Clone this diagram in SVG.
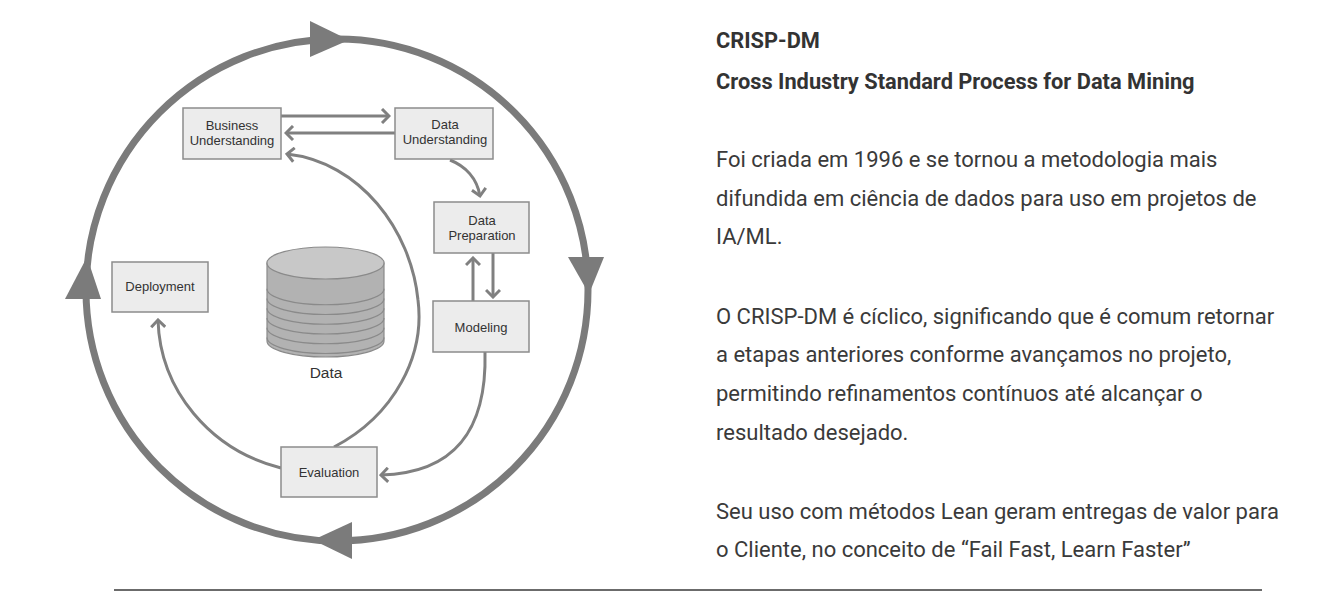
<svg xmlns="http://www.w3.org/2000/svg" width="1336" height="610" viewBox="0 0 1336 610">
<style>
.box{fill:#ececec;stroke:#8c8c8c;stroke-width:1.5}
.bt{font-family:"Liberation Sans",Arial,sans-serif;font-size:13px;fill:#333;text-anchor:middle}
.con{fill:none;stroke:#808080;stroke-width:3}
.cyc{fill:none;stroke:#7b7b7b;stroke-width:7}
.tri{fill:#7b7b7b}
.h{font-family:Roboto,"Liberation Sans",sans-serif;font-size:21.8px;font-weight:bold;fill:#333}
.p{font-family:Roboto,"Liberation Sans",sans-serif;font-size:22px;fill:#3a3a3a}
</style>
<defs>
<marker id="chev" viewBox="0 0 12 16" refX="10" refY="8" markerWidth="12" markerHeight="16" markerUnits="userSpaceOnUse" orient="auto">
<path d="M3,1 L10,8 L3,15" fill="none" stroke="#808080" stroke-width="3"/>
</marker>
</defs>
<rect width="1336" height="610" fill="#fff"/>

<g id="cycle">
<circle class="cyc" cx="337" cy="290" r="251"/>
<polygon class="tri" points="310,21 310,57 349,40"/>
<polygon class="tri" points="568,257 604,257 589,294"/>
<polygon class="tri" points="352,522 352,559 313,540"/>
<polygon class="tri" points="65,299 101,299 87,257"/>
</g>

<g id="connectors">
<path class="con" d="M281,116 L389,116" marker-end="url(#chev)"/>
<path class="con" d="M395,133 L286,133" marker-end="url(#chev)"/>
<path class="con" d="M334,447 C395,415 425,355 418,300 C411,230 360,162 287,154" marker-end="url(#chev)"/>
<path class="con" d="M450,160 C465,166 477,178 480,196" marker-end="url(#chev)"/>
<path class="con" d="M493,253 L493,297" marker-end="url(#chev)"/>
<path class="con" d="M473,301 L473,258" marker-end="url(#chev)"/>
<path class="con" d="M485,352 C487,430 455,473 381,475" marker-end="url(#chev)"/>
<path class="con" d="M281,468 C210,450 160,390 158,320" marker-end="url(#chev)"/>
</g>

<g id="business-understanding">
<rect class="box" x="183" y="108" width="98" height="51"/>
<text class="bt" x="232" y="130">Business</text>
<text class="bt" x="232" y="145">Understanding</text>
</g>
<g id="data-understanding">
<rect class="box" x="395" y="108" width="98" height="51"/>
<text class="bt" x="445" y="129">Data</text>
<text class="bt" x="445" y="144">Understanding</text>
</g>
<g id="data-preparation">
<rect class="box" x="434" y="202" width="95" height="51"/>
<text class="bt" x="482" y="225">Data</text>
<text class="bt" x="482" y="240">Preparation</text>
</g>
<g id="modeling">
<rect class="box" x="433" y="301" width="96" height="51"/>
<text class="bt" x="481" y="332">Modeling</text>
</g>
<g id="evaluation">
<rect class="box" x="281" y="447" width="96" height="50"/>
<text class="bt" x="329" y="477">Evaluation</text>
</g>
<g id="deployment">
<rect class="box" x="112" y="262" width="96" height="50"/>
<text class="bt" x="160" y="291">Deployment</text>
</g>

<g id="data">
<path d="M267,263 L267,341 A58.5,16 0 0 0 384,341 L384,263 Z" fill="#b2b2b2" stroke="#8a8a8a" stroke-width="1.2"/>
<g fill="none" stroke="#8a8a8a" stroke-width="1.2">
<path d="M267,288.75 A58.5,16 0 0 0 384,288.75"/>
<path d="M267,298.5 A58.5,16 0 0 0 384,298.5"/>
<path d="M267,308.25 A58.5,16 0 0 0 384,308.25"/>
<path d="M267,318 A58.5,16 0 0 0 384,318"/>
<path d="M267,327.75 A58.5,16 0 0 0 384,327.75"/>
<path d="M267,337.5 A58.5,16 0 0 0 384,337.5"/>
</g>
<ellipse cx="325.5" cy="263" rx="58.5" ry="16" fill="#c8c8c8" stroke="#8a8a8a" stroke-width="1.2"/>
<text x="326" y="378" font-family="'Liberation Sans',Arial,sans-serif" font-size="15.5" fill="#333" text-anchor="middle">Data</text>
</g>

<g id="description">
<text class="h" x="716" y="48">CRISP-DM</text>
<text class="h" x="716" y="89">Cross Industry Standard Process for Data Mining</text>
<text class="p" x="716" y="167">Foi criada em 1996 e se tornou a metodologia mais</text>
<text class="p" x="716" y="206">difundida em ciência de dados para uso em projetos de</text>
<text class="p" x="716" y="244">IA/ML.</text>
<text class="p" x="716" y="324">O CRISP-DM é cíclico, significando que é comum retornar</text>
<text class="p" x="716" y="362">a etapas anteriores conforme avançamos no projeto,</text>
<text class="p" x="716" y="401">permitindo refinamentos contínuos até alcançar o</text>
<text class="p" x="716" y="440">resultado desejado.</text>
<text class="p" x="716" y="519">Seu uso com métodos Lean geram entregas de valor para</text>
<text class="p" x="716" y="557">o Cliente, no conceito de “Fail Fast, Learn Faster”</text>
</g>
<line x1="114" y1="590" x2="1262" y2="590" stroke="#6b6b6b" stroke-width="2"/>
</svg>
